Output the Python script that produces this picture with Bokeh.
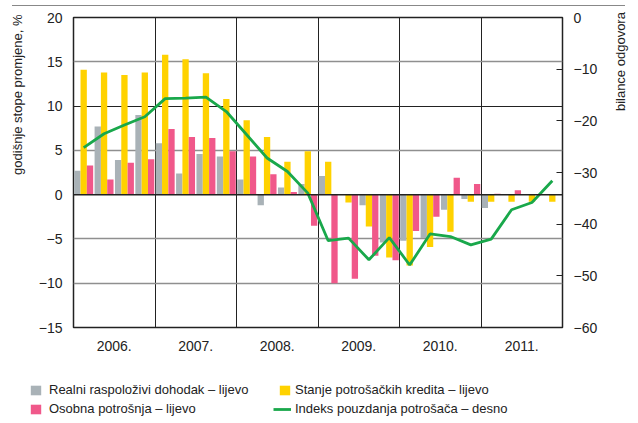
from bokeh.plotting import figure
from bokeh.models import (ColumnDataSource, Range1d, LinearAxis, FixedTicker, Span, Grid,
                          Legend, LegendItem, Div, Title)
from bokeh.layouts import column, row
from bokeh.transform import dodge
from bokeh.embed import file_html
from bokeh.resources import INLINE
import math

nan = float("nan")

years = ["2006.", "2007.", "2008.", "2009.", "2010.", "2011."]
quarters = list(range(24))

dohodak = [2.7, 7.7, 3.9, 9.0,
           5.8, 2.4, 4.6, 4.3,
           1.7, -1.2, 0.8, 1.2,
           2.1, 0.0, -1.2, -5.4,
           -5.2, -4.9, -1.7, -0.5,
           -1.5, nan, nan, nan]
krediti = [14.1, 13.8, 13.5, 13.8,
           15.8, 15.3, 13.7, 10.8,
           8.4, 6.5, 3.7, 4.9,
           3.7, -0.9, -3.6, -7.1,
           -8.0, -5.9, -4.2, -0.8,
           -0.8, -0.8, -0.8, -0.8]
potrosnja = [3.3, 1.7, 3.6, 4.0,
             7.4, 6.5, 6.4, 4.9,
             4.3, 2.3, 0.3, -3.5,
             -10.0, -9.5, -6.9, -7.4,
             -4.1, -2.5, 1.9, 1.2,
             0.1, 0.5, nan, nan]
pouzdanje = [-25.2, -22.5, -20.8, -19.2,
             -15.7, -15.6, -15.4, -18.2,
             -22.7, -27.2, -29.8, -34.0,
             -43.2, -42.7, -46.9, -42.6,
             -47.9, -41.9, -42.4, -44.0,
             -42.9, -37.2, -35.8, -31.6]

left_ticks = [20, 15, 10, 5, 0, -5, -10, -15]
right_ticks = [0, -10, -20, -30, -40, -50, -60]

left_title = "godišnje stope promjene, %"
right_title = "bilance odgovora"
labels_legend = ["Realni raspoloživi dohodak – lijevo", "Osobna potrošnja – lijevo",
                 "Stanje potrošačkih kredita – lijevo", "Indeks pouzdanja potrošača – desno"]

GRAY = "#a9b2b7"
YELLOW = "#ffd200"
PINK = "#f0588a"
GREEN = "#19a84b"
TXT = "#222222"
FONT = "Liberation Sans"

def fmt(v):
    return ("\u2212" + str(abs(v))) if v < 0 else str(v)

def plain_axis(ax, size="14px"):
    ax.axis_line_color = None
    ax.major_tick_out = 0
    ax.major_tick_in = 0
    ax.major_tick_line_color = None
    ax.minor_tick_line_color = None
    ax.minor_tick_out = 0
    ax.minor_tick_in = 0
    ax.major_label_text_font = FONT
    ax.major_label_text_font_size = size
    ax.major_label_text_color = TXT
    ax.axis_label_text_font = FONT
    ax.axis_label_text_font_size = "13px"
    ax.axis_label_text_font_style = "normal"
    ax.axis_label_text_color = TXT

src = ColumnDataSource(dict(
    xc=[q + 0.5 for q in quarters],
    dohodak=dohodak, krediti=krediti, potrosnja=potrosnja, pouzdanje=pouzdanje))

p = figure(width=638, height=346, output_backend="svg", toolbar_location=None,
           x_range=Range1d(0, 24), y_range=Range1d(-15, 20),
           min_border_left=72, min_border_right=74, min_border_top=6, min_border_bottom=30,
           x_axis_location=None, y_axis_location=None)
p.extra_y_ranges = {"r": Range1d(-60, 0)}
p.background_fill_color = "white"
p.border_fill_color = "white"
p.outline_line_color = TXT
p.outline_line_width = 1.5

# left axis: tick labels
yax = LinearAxis(ticker=FixedTicker(ticks=left_ticks))
plain_axis(yax)
yax.major_label_overrides = {v: fmt(v) for v in left_ticks}
yax.major_label_standoff = 11
p.add_layout(yax, "left")

# left title, aligned to the top of the frame
p.add_layout(Title(text=left_title, align="right", vertical_align="top", standoff=18,
                   offset=-3, text_font=FONT, text_font_size="13px",
                   text_font_style="normal", text_color=TXT), "left")

# right axis: ticks inside + labels
rax = LinearAxis(y_range_name="r", ticker=FixedTicker(ticks=right_ticks))
plain_axis(rax)
rax.major_label_overrides = {v: fmt(v) for v in right_ticks}
rax.major_tick_in = 6
rax.major_tick_line_color = TXT
rax.major_label_standoff = 11
p.add_layout(rax, "right")

# right title (reads bottom-to-top, starts level with about -18 on the right scale)
rlab = LinearAxis(y_range_name="r", ticker=FixedTicker(ticks=[]))
plain_axis(rlab, "0px")
rlab.major_label_standoff = 0
rlab.axis_label = "\u00a0" * 17 + right_title
rlab.axis_label_standoff = 20
rlab.axis_label_orientation = math.pi / 2
p.add_layout(rlab, "right")

# bottom axis (years)
xax = LinearAxis(ticker=FixedTicker(ticks=[2, 6, 10, 14, 18, 22]))
plain_axis(xax)
xax.major_label_overrides = {2 + 4 * i: y for i, y in enumerate(years)}
xax.major_label_standoff = 13
p.add_layout(xax, "below")

# grids
p.ygrid.ticker = FixedTicker(ticks=[-10, -5, 5, 15])
p.ygrid.grid_line_color = "#8f8f8f"
p.ygrid.grid_line_width = 1.5
p.add_layout(Grid(dimension=1, ticker=FixedTicker(ticks=[10]),
                  grid_line_color=TXT, grid_line_width=1))
p.xgrid.ticker = FixedTicker(ticks=[4, 8, 12, 16, 20])
p.xgrid.grid_line_color = TXT
p.xgrid.grid_line_width = 1

w = 0.31
p.vbar(x=dodge("xc", -w, range=p.x_range), top="dohodak", width=w, source=src,
       fill_color=GRAY, line_color=None)
p.vbar(x=dodge("xc", 0, range=p.x_range), top="krediti", width=w, source=src,
       fill_color=YELLOW, line_color=None)
p.vbar(x=dodge("xc", w, range=p.x_range), top="potrosnja", width=w, source=src,
       fill_color=PINK, line_color=None)

p.add_layout(Span(location=0, dimension="width", line_color=TXT, line_width=1.5))

p.line(x="xc", y="pouzdanje", source=src, y_range_name="r",
       line_color=GREEN, line_width=2.8)

# legend canvas
p2 = figure(width=638, height=59, output_backend="svg", toolbar_location=None,
            x_range=Range1d(0, 1), y_range=Range1d(0, 1), min_border=0,
            min_border_left=0, min_border_right=0, min_border_top=0, min_border_bottom=0,
            x_axis_location=None, y_axis_location=None)
p2.outline_line_color = None
p2.xgrid.visible = False
p2.ygrid.visible = False
lg_g = p2.vbar(x=[nan], top=[nan], width=0.1, fill_color=GRAY, line_color=None)
lg_p = p2.vbar(x=[nan], top=[nan], width=0.1, fill_color=PINK, line_color=None)
lg_y = p2.vbar(x=[nan], top=[nan], width=0.1, fill_color=YELLOW, line_color=None)
lg_l = p2.line(x=[nan, nan], y=[nan, nan], line_color=GREEN, line_width=2.8)

def add_legend(label, rend, x, y, gw, standoff):
    lg = Legend(items=[LegendItem(label=label, renderers=[rend])], location=(x, y),
                glyph_width=gw, glyph_height=12, label_height=12, spacing=0,
                label_standoff=standoff, padding=0, margin=0, border_line_color=None,
                background_fill_alpha=0, label_text_font=FONT, label_text_font_size="13px",
                label_text_color=TXT)
    p2.add_layout(lg, "center")

add_legend(labels_legend[0], lg_g, 29, 19, 13, 7)
add_legend(labels_legend[1], lg_p, 29, 0, 13, 7)
add_legend(labels_legend[2], lg_y, 278, 19, 13, 4)
add_legend(labels_legend[3], lg_l, 273, 0, 18, 4)

top_rule = Div(text="", width=613, height=1,
               styles={"border-top": "1px solid #888888", "margin-left": "12px"})

layout = column(top_rule, p, row(p2), spacing=0)

open("out.html", "w").write(file_html(layout, INLINE))
